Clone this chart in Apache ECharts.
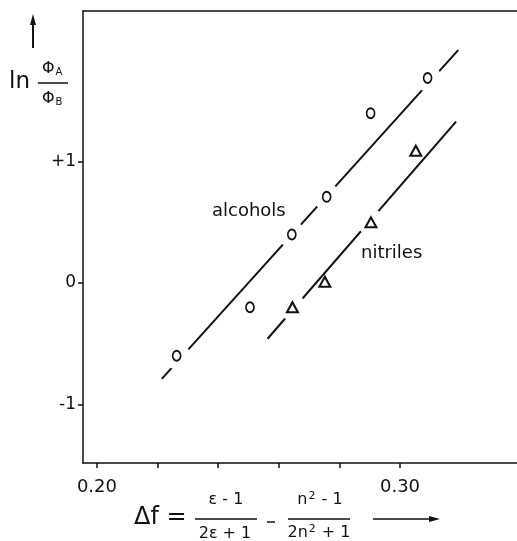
<!DOCTYPE html>
<html>
<head>
<meta charset="utf-8">
<script src="https://cdn.jsdelivr.net/npm/echarts@6/dist/echarts.min.js"></script>
<style>html,body{margin:0;padding:0;background:#fff}#c{width:517px;height:541px}</style>
</head>
<body>
<div id="c"></div>
<script>
// ---- data ----
const alcoholsX = [0.2263, 0.2505, 0.2643, 0.2758, 0.2903, 0.3091];
const alcoholsY = [-0.60, -0.20, 0.40, 0.71, 1.40, 1.69];
const nitrilesX = [0.2645, 0.2752, 0.2904, 0.3052];
const nitrilesY = [-0.20, 0.01, 0.50, 1.09];
const alcoholsFitX = [0.2214, 0.3192];
const alcoholsFitY = [-0.79, 1.92];
const nitrilesFitX = [0.2563, 0.3185];
const nitrilesFitY = [-0.46, 1.33];
const alcoholsBreaks = [0, 2, 3, 5];   // points where the fit line is interrupted
const nitrilesBreaks = [0, 2];
const xTicks = [0.20, 0.22, 0.24, 0.26, 0.28, 0.30];
const xTickLabels = [0.20, 0.30];
const yTicks = [-1, 0, 1];
const yTickText = {'-1': '-1', '0': '0', '1': '+1'};
const xRange = [0.1954, 0.3386];
const yRange = [-1.484, 2.242];

const zip = (xs, ys) => xs.map((x, i) => [x, ys[i]]);
const pick = (xs, ys, idx) => idx.map(i => [xs[i], ys[i]]);

const FONT = 'DejaVu Sans';
const chart = echarts.init(document.getElementById('c'), null, {renderer: 'canvas'});

const lineStyle = {color: '#111', width: 2};
const supRich = {sup: {fontSize: 11, fontFamily: FONT, verticalAlign: 'top', padding: [0, 1, 7, 1]}};
const option = {
  animation: false,
  backgroundColor: '#fff',
  grid: {left: 83, top: 11, right: 0, bottom: 78, containLabel: false},
  xAxis: [{
    type: 'value', min: xRange[0], max: xRange[1], position: 'bottom',
    axisLine: {show: true, onZero: false, lineStyle: {color: '#111', width: 1.5}},
    axisTick: {show: true, inside: false, customValues: xTicks, length: 5, lineStyle: {color: '#111', width: 1.5}},
    axisLabel: {show: true, customValues: xTickLabels, formatter: v => v.toFixed(2), margin: 15,
      fontFamily: FONT, fontSize: 18, color: '#111'},
    splitLine: {show: false}
  }, {
    type: 'value', min: xRange[0], max: xRange[1], position: 'top',
    axisLine: {show: true, onZero: false, lineStyle: {color: '#111', width: 1.5}},
    axisTick: {show: false}, axisLabel: {show: false}, splitLine: {show: false}
  }],
  yAxis: {
    type: 'value', min: yRange[0], max: yRange[1],
    axisLine: {show: true, onZero: false, lineStyle: {color: '#111', width: 1.5}},
    axisTick: {show: true, inside: false, customValues: yTicks, length: 5, lineStyle: {color: '#111', width: 1.5}},
    axisLabel: {show: true, customValues: yTicks, formatter: v => yTickText[String(Math.round(v))],
      margin: 7, fontFamily: FONT, fontSize: 17, color: '#111'},
    splitLine: {show: false}
  },
  series: [
    {type: 'line', data: zip(alcoholsFitX, alcoholsFitY), symbol: 'none', lineStyle: lineStyle, z: 2},
    {type: 'line', data: zip(nitrilesFitX, nitrilesFitY), symbol: 'none', lineStyle: lineStyle, z: 2},
    {type: 'scatter', data: pick(alcoholsX, alcoholsY, alcoholsBreaks), symbol: 'circle', symbolSize: 27,
      itemStyle: {color: '#fff', opacity: 1}, emphasis: {disabled: true}, z: 3, silent: true},
    {type: 'scatter', data: pick(nitrilesX, nitrilesY, nitrilesBreaks), symbol: 'circle', symbolSize: 27,
      itemStyle: {color: '#fff', opacity: 1}, emphasis: {disabled: true}, z: 3, silent: true},
    {type: 'scatter', name: 'alcohols', data: zip(alcoholsX, alcoholsY), symbol: 'circle', symbolSize: [8, 10],
      itemStyle: {color: '#fff', borderColor: '#111', borderWidth: 1.8, opacity: 1}, z: 4},
    {type: 'scatter', name: 'nitriles', data: zip(nitrilesX, nitrilesY), symbol: 'triangle', symbolSize: [11, 10],
      itemStyle: {color: '#fff', borderColor: '#111', borderWidth: 2, opacity: 1}, z: 4}
  ],
  graphic: [
    // series labels
    {type: 'text', left: 212, top: 202, style: {text: 'alcohols', font: '18px "DejaVu Sans"', fill: '#111'}, z: 10},
    {type: 'text', left: 361, top: 244, style: {text: 'nitriles', font: '18px "DejaVu Sans"', fill: '#111'}, z: 10},
    // y axis title: up arrow + ln Φ_A/Φ_B
    {type: 'line', shape: {x1: 33, y1: 48, x2: 33, y2: 22}, style: {stroke: '#111', lineWidth: 2}},
    {type: 'polygon', shape: {points: [[33, 14], [30, 25], [36, 25]]}, style: {fill: '#111'}},
    {type: 'text', left: 9, top: 71, style: {text: 'ln', font: '23px "DejaVu Sans"', fill: '#111'}},
    {type: 'line', shape: {x1: 38, y1: 83, x2: 68, y2: 83}, style: {stroke: '#111', lineWidth: 1.5}},
    {type: 'text', left: 42, top: 61, style: {
      text: 'Φ{s|A}', font: '16px "DejaVu Sans"', fill: '#111',
      rich: {s: {fontSize: 10, fontFamily: FONT, verticalAlign: 'bottom', padding: [6, 0, 0, 1]}}}},
    {type: 'text', left: 42, top: 91, style: {
      text: 'Φ{s|B}', font: '16px "DejaVu Sans"', fill: '#111',
      rich: {s: {fontSize: 10, fontFamily: FONT, verticalAlign: 'bottom', padding: [6, 0, 0, 1]}}}},
    // x axis title: Δf = (ε-1)/(2ε+1) − (n²-1)/(2n²+1) →
    {type: 'text', left: 134, top: 506, style: {text: 'Δf =', font: '24px "DejaVu Sans"', fill: '#111'}},
    {type: 'text', x: 226, y: 500, style: {text: 'ε - 1', font: '16px "DejaVu Sans"', fill: '#111', align: 'center', verticalAlign: 'middle'}},
    {type: 'line', shape: {x1: 195, y1: 519, x2: 257, y2: 519}, style: {stroke: '#111', lineWidth: 1.5}},
    {type: 'text', x: 225, y: 534, style: {text: '2ε + 1', font: '16px "DejaVu Sans"', fill: '#111', align: 'center', verticalAlign: 'middle'}},
    {type: 'line', shape: {x1: 267, y1: 522, x2: 275, y2: 522}, style: {stroke: '#111', lineWidth: 1.5}},
    {type: 'text', x: 320, y: 500, style: {text: 'n{sup|2} - 1', font: '16px "DejaVu Sans"', fill: '#111', align: 'center', verticalAlign: 'middle', rich: supRich}},
    {type: 'line', shape: {x1: 288, y1: 519, x2: 350, y2: 519}, style: {stroke: '#111', lineWidth: 1.5}},
    {type: 'text', x: 319, y: 533, style: {text: '2n{sup|2} + 1', font: '16px "DejaVu Sans"', fill: '#111', align: 'center', verticalAlign: 'middle', rich: supRich}},
    {type: 'line', shape: {x1: 373, y1: 519, x2: 430, y2: 519}, style: {stroke: '#111', lineWidth: 1.5}},
    {type: 'polygon', shape: {points: [[440, 519], [429, 516], [429, 522]]}, style: {fill: '#111'}}
  ]
};
chart.setOption(option);
</script>
</body>
</html>
